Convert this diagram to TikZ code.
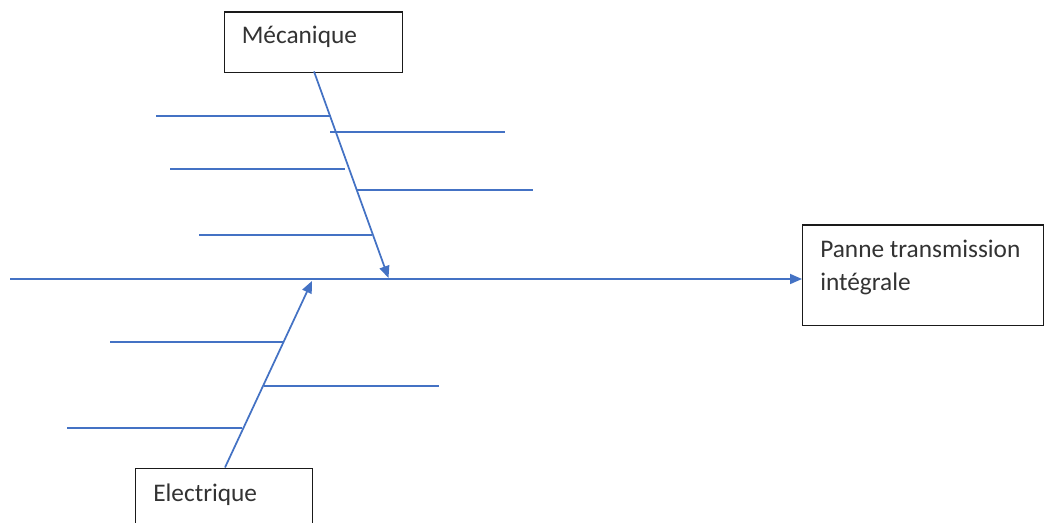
\documentclass[tikz,border=0pt]{standalone}
\usepackage{fontspec}
\setmainfont{Carlito}
\usetikzlibrary{arrows.meta}
\definecolor{fishblue}{HTML}{4472C4}
\definecolor{boxline}{HTML}{1A1A1A}
\begin{document}
\begin{tikzpicture}[x=0.75pt,y=-0.75pt,
  bone/.style={draw=fishblue,line width=1.3pt},
  arrowbone/.style={bone,-{Triangle[length=9pt,width=7.5pt]}},
  box/.style={draw=boxline,line width=1pt,rectangle,inner sep=0pt,anchor=north west},
  lbl/.style={anchor=base west,inner sep=0pt,text=black!80,font=\fontsize{19}{24.75}\selectfont}]
\clip (0,0) rectangle (1045,523);
\fill[white] (0,0) rectangle (1045,523);
% boxes
\node[box,minimum width=178.5pt*0.75,minimum height=60.5pt*0.75] (mec) at (223.5,11.5) {};
\node[box,minimum width=241pt*0.75,minimum height=100.5pt*0.75] (panne) at (802,224.5) {};
\node[box,minimum width=177pt*0.75,minimum height=80pt*0.75] (elec) at (135,467.5) {};
% texts
\node[lbl] (tmec) at (241.5,43.5) {Mécanique};
\node[lbl] (tpanne1) at (820,257.5) {Panne transmission};
\node[lbl] (tpanne2) at (820,290.5) {intégrale};
\node[lbl] (telec) at (153,501.5) {Electrique};
% spine
\coordinate (tail) at (10,279);
\draw[arrowbone] (tail) -- (panne.west |- tail);
% main bones
\coordinate (mecfoot) at (314,71.5);
\coordinate (mechead) at (388.5,278);
\draw[arrowbone] (mecfoot) -- (mechead);
\coordinate (elecfoot) at (225,467.5);
\coordinate (elechead) at (312,281);
\draw[arrowbone] (elecfoot) -- (elechead);
% top sub-bones
\coordinate (a1) at (156,116); \coordinate (a2) at (331,116);
\coordinate (b1) at (330,132); \coordinate (b2) at (505,132);
\coordinate (c1) at (170,169); \coordinate (c2) at (345,169);
\coordinate (d1) at (357,190); \coordinate (d2) at (533,190);
\coordinate (e1) at (199,235); \coordinate (e2) at (372,235);
\draw[bone] (a1) -- (a2);
\draw[bone] (b1) -- (b2);
\draw[bone] (c1) -- (c2);
\draw[bone] (d1) -- (d2);
\draw[bone] (e1) -- (e2);
% bottom sub-bones
\coordinate (f1) at (110,342); \coordinate (f2) at (284,342);
\coordinate (g1) at (264,386); \coordinate (g2) at (439,386);
\coordinate (h1) at (67,428); \coordinate (h2) at (242,428);
\draw[bone] (f1) -- (f2);
\draw[bone] (g1) -- (g2);
\draw[bone] (h1) -- (h2);
\end{tikzpicture}
\end{document}
